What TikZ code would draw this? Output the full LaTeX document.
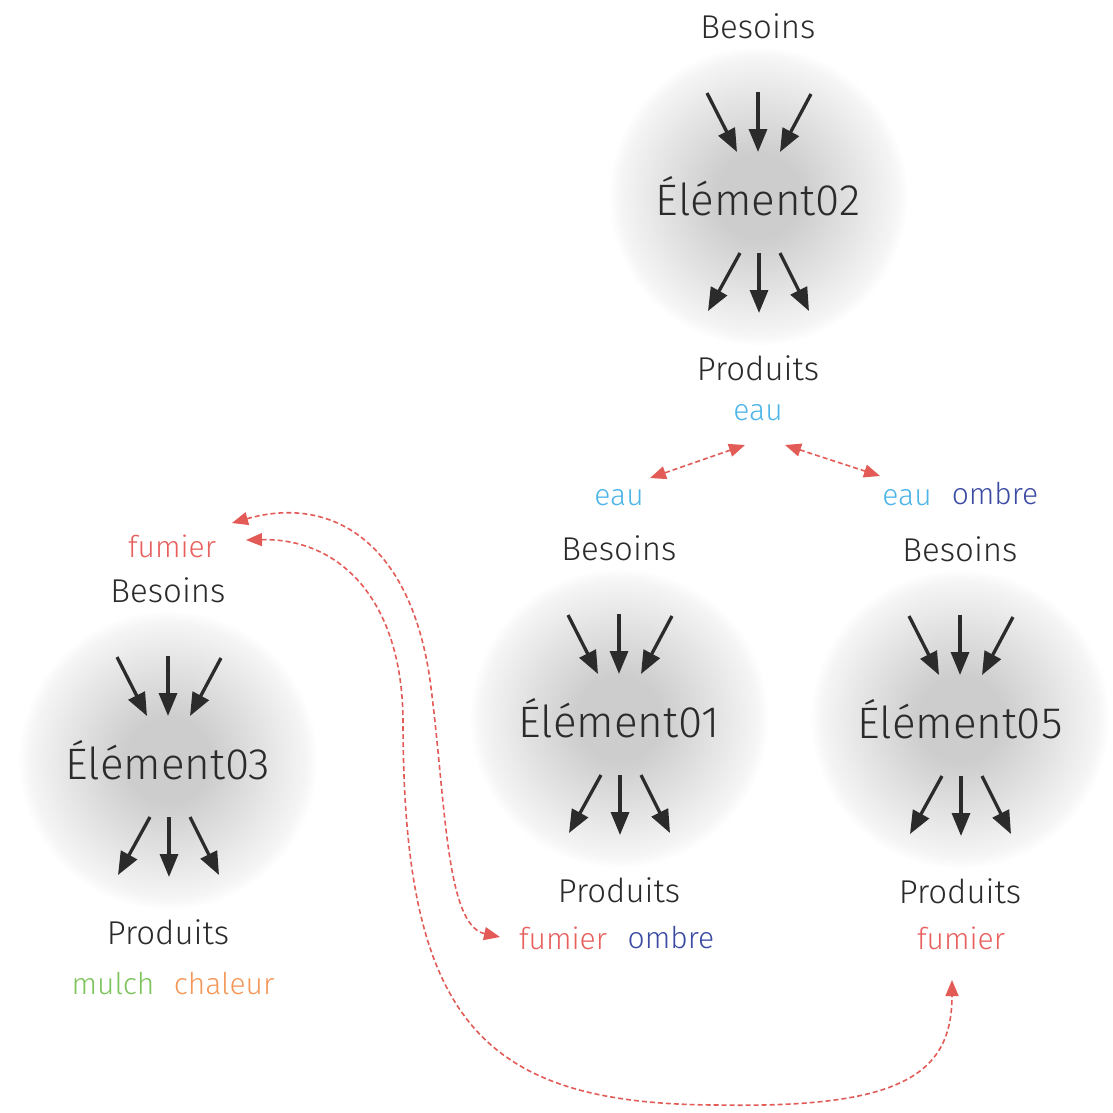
\documentclass[tikz,border=0pt]{standalone}
\usepackage{fontspec}
\setmainfont{Fira Sans Light}
\usetikzlibrary{arrows.meta,calc}

\definecolor{ink}{HTML}{2B2B2B}
\definecolor{haloA}{HTML}{CDCDCD}
\definecolor{haloB}{HTML}{E3E3E3}
\definecolor{haloC}{HTML}{F5F5F5}
\definecolor{linkred}{HTML}{E35B57}
\definecolor{sky}{HTML}{4DB5E8}
\definecolor{navy}{HTML}{3B4BA3}
\definecolor{rust}{HTML}{E8605E}
\definecolor{leaf}{HTML}{7CC35A}
\definecolor{amber}{HTML}{F4985A}

% soft grey disc behind each element
\pgfdeclareradialshading{halo}{\pgfpoint{0bp}{0bp}}{%
  color(0bp)=(haloA); color(7bp)=(haloA); color(16bp)=(haloB);
  color(23bp)=(haloC); color(25bp)=(white); color(50bp)=(white)}

\tikzset{
  flow/.style={draw=ink, line width=3.3pt, -{Triangle[length=23pt,width=18pt]}},
  link/.style={draw=linkred, line width=1.6pt, dash pattern=on 5pt off 3pt,
    {Triangle[length=16pt,width=13pt]}-{Triangle[length=16pt,width=13pt]}},
  title/.style={font=\fontsize{44}{44}\selectfont, text=ink, inner sep=0pt},
  tag/.style={font=\fontsize{33}{33}\selectfont, text=ink, inner sep=0pt},
  word/.style={font=\fontsize{30}{30}\selectfont, inner sep=0pt},
  element/.pic={
    \shade[shading=halo] (0,0) circle (150pt);
    \node[title] (-title) at (0,0) {#1};
    \node[tag] (-besoins) at (0,-170) {Besoins};
    \node[tag] (-produits) at (0,172) {Produits};
    \foreach \a/\b/\c/\d in {-51/-103/-21/-44, 0/-104/0/-44, 53/-102/22/-44,
                             -18/57/-50/115, 1/57/1/117, 22/57/51/115}
      \draw[flow] (\a,\b) -- (\c,\d);
  }
}

\begin{document}
\begin{tikzpicture}[x=1pt, y=-1pt]
  \useasboundingbox (0,0) rectangle (1113,1112);

  % the four elements
  \pic (e02) at (758,196) {element={Élément02}};
  \pic (e01) at (619,718) {element={Élément01}};
  \pic (e05) at (960,719) {element={Élément05}};
  \pic (e03) at (168,760) {element={Élément03}};

  % needs and products
  \node[word, text=sky]   (p2eau) at (758,413) {eau};
  \node[word, text=sky]   (b1eau) at (619,498) {eau};
  \node[word, text=sky]   (b5eau) at (907,498) {eau};
  \node[word, text=navy]  (b5omb) at (995,494) {ombre};
  \node[word, text=rust]  (b3fum) at (172,546) {fumier};
  \node[word, text=rust]  (p1fum) at (563,938) {fumier};
  \node[word, text=navy]  (p1omb) at (671,938) {ombre};
  \node[word, text=rust]  (p5fum) at (961,938) {fumier};
  \node[word, text=leaf]  (p3mul) at (113,984) {mulch};
  \node[word, text=amber] (p3cha) at (224,984) {chaleur};

  % exchanges between elements
  \draw[link] ($(p2eau)+(-13,32)$) -- ($(b1eau)+(31,-20)$);
  \draw[link] ($(p2eau)+(27,32)$) -- ($(b5eau)+(-27,-22)$);
  \draw[link] ($(b3fum)+(60,-23)$) .. controls (330,495) and (410,540) .. (430,680)
              .. controls (446,800) and (445,925) .. ($(p1fum)+(-63,-1)$);
  \draw[link] ($(b3fum)+(74,-6)$) .. controls (340,538) and (402,600) .. (403,720)
              .. controls (403,1020) and (480,1105) .. (720,1105)
              .. controls (900,1108) and (952,1075) .. ($(p5fum)+(-9,42)$);
\end{tikzpicture}
\end{document}
